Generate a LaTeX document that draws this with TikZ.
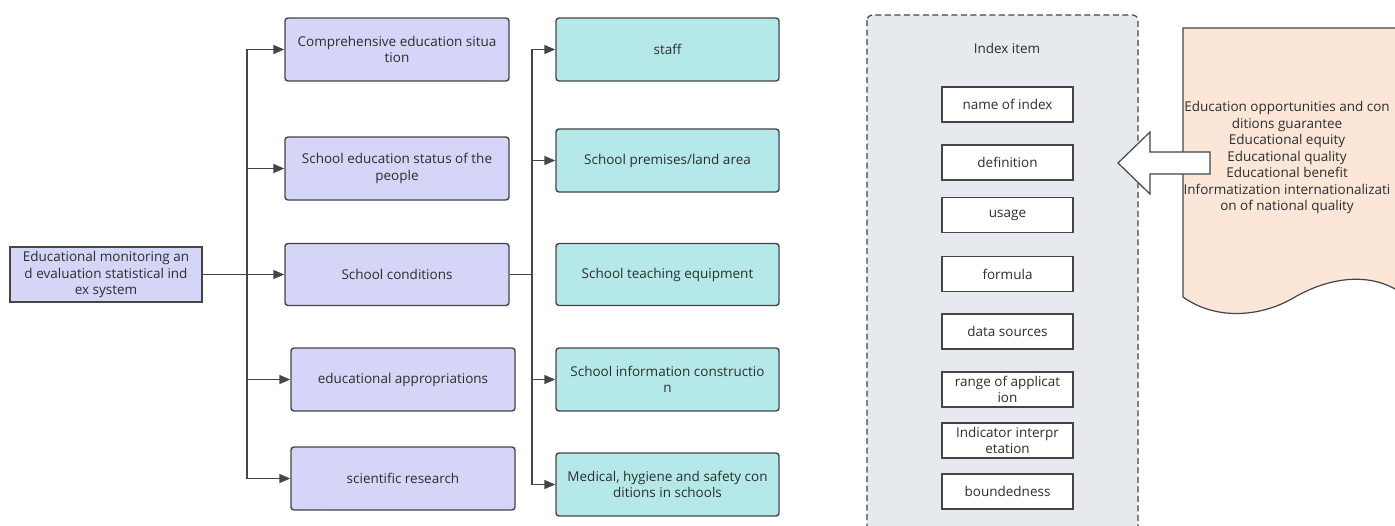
\documentclass[tikz,border=0pt]{standalone}
\usepackage{fontspec}
\setmainfont{Open Sans}
\usetikzlibrary{arrows.meta}
\definecolor{txt}{HTML}{2E2E2E}
\definecolor{edge}{HTML}{454545}
\definecolor{lav}{HTML}{D4D5F7}
\definecolor{teal}{HTML}{B5E9E9}
\definecolor{cont}{HTML}{E6E9ED}
\definecolor{docfill}{HTML}{FBE6D7}
\tikzset{
  every node/.style={text=txt, font=\fontsize{13.5}{16.5}\selectfont, align=center, inner sep=0pt},
  lavbox/.style={draw=edge, line width=1.4pt, fill=lav, rounded corners=3pt, minimum width=224pt, minimum height=63pt},
  tealbox/.style={draw=edge, line width=1.4pt, fill=teal, rounded corners=3pt, minimum width=223pt, minimum height=63pt},
  rootbox/.style={draw=edge, line width=1.4pt, fill=lav, minimum width=192pt, minimum height=55pt},
  itembox/.style={draw=edge, line width=1.4pt, fill=white, minimum width=131pt, minimum height=35pt},
  conn/.style={draw=edge, line width=1.4pt},
  arr/.style={conn, -{Triangle[length=11pt,width=9pt]}},
}
\begin{document}
\begin{tikzpicture}[x=1pt,y=-1pt]
\clip (0,0) rectangle (1395,525);
% left tree
\node[rootbox] (root) at (106,274.5) {Educational monitoring an\\d evaluation statistical ind\\ex system};
\node[lavbox] (m1) at (397,49.5) {Comprehensive education situa\\tion};
\node[lavbox] (m2) at (397,168.5) {School education status of the\\people};
\node[lavbox,minimum height=62pt] (m3) at (397,274.5) {School conditions};
\node[lavbox] (m4) at (403,379.5) {educational appropriations};
\node[lavbox] (m5) at (403,478.5) {scientific research};
\coordinate (t1) at (247,274.5);
\draw[conn] (root.east) -- (t1);
\draw[arr] (t1) |- (m1.west);
\draw[arr] (t1) |- (m2.west);
\draw[arr] (root.east) -- (m3.west);
\draw[arr] (t1) |- (m4.west);
\draw[arr] (t1) |- (m5.west);
% right tree
\node[tealbox] (r1) at (667.5,49.5) {staff};
\node[tealbox] (r2) at (667.5,160.5) {School premises/land area};
\node[tealbox,minimum height=62pt] (r3) at (667.5,274.5) {School teaching equipment};
\node[tealbox] (r4) at (667.5,379.5) {School information constructio\\n};
\node[tealbox] (r5) at (667.5,484.5) {Medical, hygiene and safety con\\ditions in schools};
\coordinate (t2) at (532,274.5);
\draw[conn] (m3.east) -- (t2);
\draw[arr] (t2) |- (r1.west);
\draw[arr] (t2) |- (r2.west);
\draw[arr] (t2) |- (r4.west);
\draw[arr] (t2) |- (r5.west);
% container
\draw[draw=edge, line width=1.2pt, dash pattern=on 6pt off 3.5pt, fill=cont, rounded corners=5pt] (867,15) rectangle (1138,560);
\node (title) at (1007,48) {Index item};
\node[itembox] (i1) at (1007.5,104.5) {name of index};
\node[itembox] (i2) at (1007.5,162.5) {definition};
\node[itembox] (i3) at (1007.5,215) {usage};
\node[itembox] (i4) at (1007.5,274) {formula};
\node[itembox] (i5) at (1007.5,331.5) {data sources};
\node[itembox] (i6) at (1007.5,389.5) {range of applicat\\ion};
\node[itembox] (i7) at (1007.5,440.5) {Indicator interpr\\etation};
\node[itembox] (i8) at (1007.5,491.5) {boundedness};
% document shape
\draw[draw=edge, line width=1.2pt, fill=docfill] (1183,28) -- (1402,28) -- (1402,300) -- (1400,292)
  .. controls (1370,272) and (1330,277) .. (1295,297)
  .. controls (1260,318) and (1215,320) .. (1183,297) -- cycle;
\node (doc) at (1287,157.5) {Education opportunities and con\\ditions guarantee\\Educational equity\\Educational quality\\Educational benefit\\Informatization internationalizati\\on of national quality};
% block arrow
\draw[draw=edge, line width=1.2pt, fill=white] (1118,163) -- (1150,132) -- (1150,152) -- (1210,152) -- (1210,174) -- (1150,174) -- (1150,194) -- cycle;
\end{tikzpicture}
\end{document}
